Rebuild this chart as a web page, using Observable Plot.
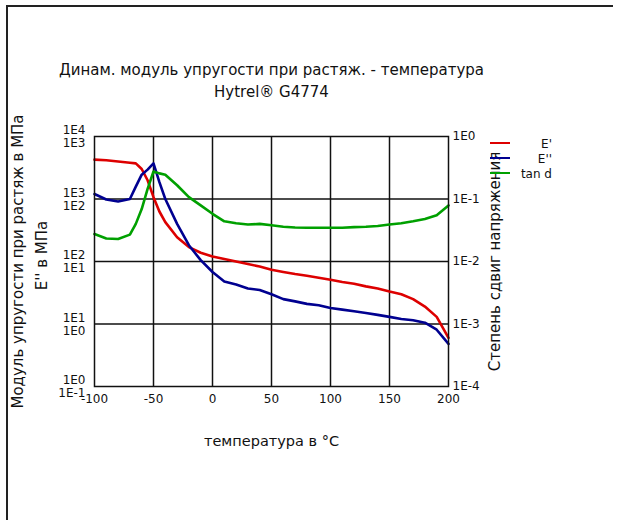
<!DOCTYPE html>
<html><head><meta charset="utf-8">
<script src="https://cdn.jsdelivr.net/npm/d3@7"></script>
<script src="https://cdn.jsdelivr.net/npm/@observablehq/plot@0.6"></script>
<style>
body{margin:0;background:#fff;font-family:"DejaVu Sans",sans-serif;}
#wrap{position:relative;width:622px;height:520px;overflow:hidden;}
#border{position:absolute;left:6px;top:5px;width:607px;height:530px;border-top:2px solid #222;border-left:2px solid #222;box-sizing:border-box;}
#chart{position:absolute;left:0;top:0;}
</style></head><body><div id="wrap"><div id="border"></div><div id="chart"></div></div>
<script>
// Temperatures (°C)
const temps = [-100,-90,-80,-70,-65,-60,-55,-50,-45,-40,-30,-20,-10,0,10,20,30,40,50,60,70,80,90,100,110,120,130,140,150,160,170,180,190,200];
// E' (MPa), left axis 1E0..1E4
const ePrime = [4270,4170,3980,3800,3720,3020,1995,1070,631,427,245,170,138,120,110,100,91,83,74,68,63,59,55,51,47,44,40,37,33,30,25,19,13,6];
// E'' (MPa), left axis 1E-1..1E3
const eDouble = [120,98,91,100,158,245,295,372,186,100,40,18.2,10.5,6.8,4.8,4.3,3.7,3.5,3.0,2.5,2.3,2.1,2.0,1.8,1.7,1.6,1.5,1.4,1.3,1.2,1.15,1.05,0.81,0.48];
// tan d, right axis 1E-4..1E0
const tanD = [0.0275,0.0234,0.0229,0.0269,0.040,0.069,0.145,0.275,0.257,0.245,0.166,0.107,0.079,0.058,0.044,0.041,0.039,0.040,0.038,0.036,0.035,0.0347,0.0347,0.0347,0.0347,0.0355,0.036,0.037,0.039,0.041,0.044,0.048,0.055,0.079];

const xTicks = [-100,-50,0,50,100,150,200];
const yTicks = [1,10,100,1000,10000];
const seriesNames = ["E'", "E''", "tan d"];
const seriesColors = ["#dd0000", "#000090", "#00a000"];
const titleLines = ["Динам. модуль упругости при растяж. - температура", "Hytrel® G4774"];
const xTitle = "температура в °C";
const yTitle1 = "Модуль упругости при растяж в МПа";
const yTitle2 = "E'' в МПа";
const y2Title = "Степень сдвиг напряжения";

// Build table: E'' axis offset by one decade, tan d axis by four decades relative to E'
const rowsE1 = temps.map((t,i)=>({t, v: ePrime[i]}));
const rowsE2 = temps.map((t,i)=>({t, v: eDouble[i]*10}));
const rowsT = temps.map((t,i)=>({t, v: tanD[i]*1e4}));
const lg = v => Math.round(Math.log10(v));
const gridStyle = {stroke:"#111", strokeOpacity:1, strokeWidth:1.5};
const font = "DejaVu Sans";
const tStyle = {fontSize:15, fill:"#111", textAnchor:"middle", lineAnchor:"middle"};

const plot = Plot.plot({
  width:622, height:520,
  marginLeft:94, marginRight:174, marginTop:136, marginBottom:134,
  style:{fontFamily:font, fontSize:"12px", background:"transparent", color:"#111", overflow:"visible"},
  x:{domain:[-100,200]},
  y:{type:"log", domain:[1,1e4]},
  marks:[
    Plot.gridX(xTicks.slice(1,-1), gridStyle),
    Plot.gridY(yTicks.slice(1,-1), gridStyle),
    Plot.line(rowsE1, {x:"t", y:"v", stroke:seriesColors[0], strokeWidth:2.6}),
    Plot.line(rowsE2, {x:"t", y:"v", stroke:seriesColors[1], strokeWidth:2.6}),
    Plot.line(rowsT, {x:"t", y:"v", stroke:seriesColors[2], strokeWidth:2.6}),
    Plot.frame({stroke:"#111", strokeWidth:1.5}),
    Plot.axisX(xTicks, {tickSize:0, tickPadding:8, fontSize:12, tickFormat:d=>String(d), label:null}),
    Plot.axisY(yTicks, {anchor:"left", tickSize:0, tickPadding:9, dy:-6, tickFormat:d=>"1E"+lg(d), fontSize:12, label:null}),
    Plot.axisY(yTicks, {anchor:"left", tickSize:0, tickPadding:9, dy:7, tickFormat:d=>"1E"+(lg(d)-1), fontSize:12, label:null}),
    Plot.axisY(yTicks, {anchor:"right", tickSize:0, tickPadding:4, tickFormat:d=>"1E"+(lg(d)-4), fontSize:12, label:null}),
    Plot.text([titleLines[0]], {...tStyle, frameAnchor:"top", dy:-66}),
    Plot.text([titleLines[1]], {...tStyle, frameAnchor:"top", dy:-44}),
    Plot.text([xTitle], {...tStyle, frameAnchor:"bottom", dy:55, fontSize:14.5}),
    Plot.text([yTitle1], {...tStyle, frameAnchor:"left", dx:-76, rotate:-90}),
    Plot.text([yTitle2], {...tStyle, frameAnchor:"left", dx:-52, dy:-6, rotate:-90}),
    Plot.text([y2Title], {...tStyle, frameAnchor:"right", dx:47, rotate:-90})
  ]
});
document.getElementById("chart").appendChild(plot);

// Legend
const svg = d3.select(plot);
const lgd = svg.append("g").attr("font-family", font).attr("font-size", 12);
seriesNames.forEach((name,i)=>{
  const y = 143 + i*15;
  lgd.append("line").attr("x1",490).attr("x2",510).attr("y1",y).attr("y2",y)
    .attr("stroke",seriesColors[i]).attr("stroke-width",2);
  lgd.append("text").attr("x",552).attr("y",y+1).attr("text-anchor","end")
    .attr("dominant-baseline","middle").attr("fill","#111").text(name);
});
</script>
</body></html>
